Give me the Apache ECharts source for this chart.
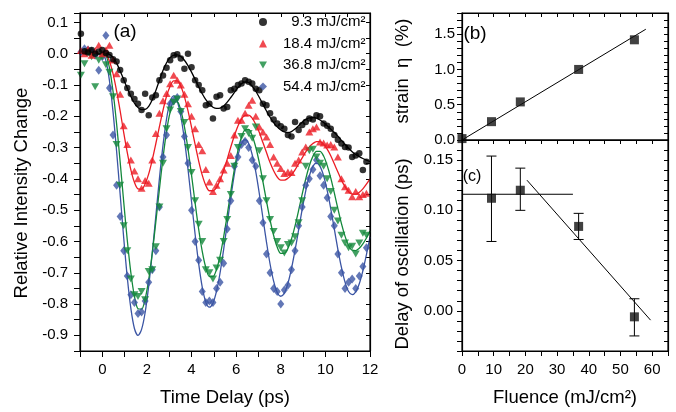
<!DOCTYPE html>
<html><head><meta charset="utf-8">
<script src="https://cdn.jsdelivr.net/npm/echarts@6/dist/echarts.min.js"></script>
<style>html,body{margin:0;padding:0;background:#fff}#c{width:676px;height:412px}</style>
</head><body><div id="c"></div>
<script>
// ---- Panel (a): time delays (ps) ----
const delays = [-0.96,-0.80,-0.64,-0.48,-0.32,-0.16,0.00,0.16,0.32,0.48,0.64,0.80,0.96,1.12,1.28,1.44,1.60,1.76,1.92,2.08,2.24,2.40,2.56,2.72,2.88,3.04,3.20,3.36,3.52,3.68,3.84,4.00,4.16,4.32,4.48,4.64,4.80,4.96,5.12,5.28,5.44,5.60,5.76,5.92,6.08,6.24,6.40,6.56,6.72,6.88,7.04,7.20,7.36,7.52,7.68,7.84,8.00,8.16,8.32,8.48,8.64,8.80,8.96,9.12,9.28,9.44,9.60,9.76,9.92,10.08,10.24,10.40,10.56,10.72,10.88,11.04,11.20,11.36,11.52,11.68,11.84];
const fitDelays = delays.concat([12.0]);

// measured relative intensity change
const d93 = [0.064,0.008,0.004,0.012,0.0,0.006,0.012,0.002,
 -0.004,-0.018,-0.025,-0.052,-0.085,-0.11,-0.128,-0.145,-0.16,-0.18,
 -0.128,-0.197,-0.14,-0.133,-0.085,-0.07,-0.045,-0.021,-0.005,-0.002,
 -0.015,-0.048,0.0,-0.043,-0.085,-0.1,-0.117,-0.165,-0.16,-0.207,
 -0.138,-0.133,-0.175,-0.17,-0.117,-0.112,-0.1,-0.095,-0.085,-0.09,
 -0.095,-0.112,-0.117,-0.16,-0.165,-0.19,-0.21,-0.223,-0.232,-0.24,
 -0.26,-0.265,-0.218,-0.244,-0.228,-0.218,-0.207,-0.21,-0.197,-0.2,
 -0.223,-0.23,-0.24,-0.26,-0.275,-0.287,-0.298,-0.3,-0.33,-0.325,
 -0.318,-0.372,-0.345];
const d184 = [0.01,0.0,0.015,-0.005,0.01,0.027,0.0,
 0.012,0.027,-0.02,-0.064,-0.13,-0.23,-0.29,-0.34,-0.375,-0.40,
 -0.43,-0.405,-0.414,-0.34,-0.255,-0.19,-0.15,-0.127,-0.096,-0.069,
 -0.085,-0.1,-0.13,-0.16,-0.2,-0.24,-0.29,-0.31,-0.37,-0.41,
 -0.44,-0.42,-0.40,-0.372,-0.35,-0.325,-0.26,-0.213,-0.213,-0.19,
 -0.165,-0.149,-0.2,-0.234,-0.25,-0.266,-0.29,-0.33,-0.35,-0.367,
 -0.383,-0.378,-0.38,-0.35,-0.34,-0.314,-0.298,-0.25,-0.24,-0.234,
 -0.282,-0.285,-0.292,-0.29,-0.298,-0.33,-0.40,-0.425,-0.436,-0.457,
 -0.44,-0.457,-0.45,-0.446];
const d368 = [-0.069,-0.032,0.005,-0.01,-0.106,-0.021,-0.01,
 -0.035,-0.059,-0.138,-0.29,-0.42,-0.55,-0.63,-0.72,-0.77,-0.776,
 -0.76,-0.786,-0.696,-0.69,-0.617,-0.49,-0.35,-0.24,-0.18,-0.155,
 -0.145,-0.185,-0.22,-0.3,-0.38,-0.47,-0.545,-0.6,-0.69,-0.70,
 -0.72,-0.685,-0.66,-0.6,-0.53,-0.45,-0.36,-0.3,-0.265,-0.24,
 -0.255,-0.27,-0.234,-0.31,-0.4,-0.47,-0.53,-0.568,-0.6,-0.62,
 -0.637,-0.61,-0.605,-0.585,-0.54,-0.47,-0.36,-0.31,-0.305,-0.33,
 -0.35,-0.36,-0.4,-0.44,-0.5,-0.535,-0.58,-0.605,-0.62,-0.615,
 -0.64,-0.605,-0.574,-0.58];
const d544 = [0.005,0.016,0.012,0.008,-0.005,-0.053,-0.01,
 0.058,-0.11,-0.26,-0.42,-0.52,-0.63,-0.71,-0.77,-0.795,-0.83,
 -0.825,-0.79,-0.73,-0.69,-0.63,-0.49,-0.33,-0.26,-0.16,-0.15,
 -0.14,-0.185,-0.265,-0.35,-0.5,-0.6,-0.66,-0.76,-0.795,-0.79,
 -0.795,-0.75,-0.73,-0.67,-0.56,-0.47,-0.36,-0.33,-0.29,-0.28,
 -0.3,-0.34,-0.36,-0.47,-0.54,-0.64,-0.7,-0.75,-0.76,-0.8,
 -0.755,-0.74,-0.69,-0.63,-0.55,-0.49,-0.42,-0.4,-0.37,-0.34,
 -0.39,-0.42,-0.46,-0.52,-0.55,-0.64,-0.7,-0.75,-0.73,-0.72,
 -0.75,-0.71,-0.68,-0.62];

// fitted curves
const fit93 = [0,0,0,0,0,0,0,0,
 -0.002,-0.012,-0.03,-0.055,-0.083,-0.11,-0.137,-0.158,-0.172,-0.179,
 -0.178,-0.168,-0.147,-0.118,-0.085,-0.054,-0.029,-0.012,-0.005,-0.004,
 -0.009,-0.021,-0.038,-0.059,-0.082,-0.106,-0.128,-0.147,-0.161,-0.171,
 -0.175,-0.174,-0.167,-0.155,-0.14,-0.124,-0.108,-0.096,-0.09,-0.092,
 -0.104,-0.12,-0.14,-0.162,-0.183,-0.203,-0.22,-0.234,-0.244,-0.25,
 -0.252,-0.249,-0.241,-0.23,-0.219,-0.21,-0.205,-0.204,-0.206,-0.212,
 -0.22,-0.23,-0.241,-0.252,-0.264,-0.277,-0.29,-0.302,-0.313,-0.322,
 -0.329,-0.335,-0.34,-0.345];
const fit184 = [0,0,0,0,0,0,0,
 -0.003,-0.024,-0.064,-0.119,-0.183,-0.252,-0.316,-0.371,-0.411,-0.432,
 -0.433,-0.416,-0.384,-0.339,-0.287,-0.233,-0.181,-0.136,-0.104,-0.087,
 -0.087,-0.104,-0.137,-0.182,-0.235,-0.29,-0.343,-0.388,-0.421,-0.438,
 -0.438,-0.427,-0.404,-0.373,-0.337,-0.298,-0.262,-0.231,-0.208,-0.197,
 -0.196,-0.206,-0.226,-0.252,-0.284,-0.316,-0.348,-0.374,-0.394,-0.404,
 -0.404,-0.398,-0.387,-0.371,-0.352,-0.333,-0.314,-0.298,-0.287,-0.281,
 -0.281,-0.289,-0.305,-0.326,-0.352,-0.378,-0.404,-0.425,-0.441,-0.449,
 -0.449,-0.443,-0.432,-0.417,-0.40];
const fit368 = [0,0,0,0,0,0,0,
 -0.005,-0.045,-0.12,-0.224,-0.346,-0.474,-0.596,-0.7,-0.775,-0.815,
 -0.816,-0.784,-0.722,-0.637,-0.537,-0.433,-0.333,-0.248,-0.187,-0.154,
 -0.154,-0.181,-0.233,-0.304,-0.388,-0.477,-0.561,-0.632,-0.684,-0.712,
 -0.712,-0.689,-0.646,-0.585,-0.515,-0.44,-0.37,-0.31,-0.266,-0.243,
 -0.242,-0.262,-0.299,-0.349,-0.409,-0.471,-0.531,-0.581,-0.618,-0.638,
 -0.638,-0.622,-0.592,-0.55,-0.501,-0.449,-0.4,-0.358,-0.328,-0.312,
 -0.312,-0.327,-0.357,-0.397,-0.445,-0.495,-0.543,-0.583,-0.613,-0.628,
 -0.629,-0.622,-0.608,-0.589,-0.567];
const fit544 = [0,0,0,0,0,0,0,
 -0.022,-0.086,-0.185,-0.311,-0.45,-0.589,-0.715,-0.814,-0.878,-0.9,
 -0.881,-0.827,-0.742,-0.636,-0.518,-0.399,-0.293,-0.208,-0.154,-0.135,
 -0.152,-0.2,-0.274,-0.368,-0.473,-0.577,-0.671,-0.746,-0.794,-0.81,
 -0.797,-0.759,-0.7,-0.625,-0.543,-0.46,-0.385,-0.326,-0.288,-0.275,
 -0.287,-0.323,-0.378,-0.448,-0.525,-0.602,-0.672,-0.727,-0.763,-0.775,
 -0.765,-0.734,-0.687,-0.628,-0.563,-0.497,-0.438,-0.391,-0.36,-0.35,
 -0.36,-0.39,-0.437,-0.495,-0.56,-0.625,-0.683,-0.73,-0.76,-0.77,
 -0.761,-0.735,-0.694,-0.642,-0.585];

const seriesNames = ['9.3','18.4','36.8','54.4'];
const legendLabels = {'9.3':'\u2007' + '9.3 mJ/cm²', '18.4':'18.4 mJ/cm²', '36.8':'36.8 mJ/cm²', '54.4':'54.4 mJ/cm²'};

// ---- Panel (b) ----
const strainFluence = [0, 9.3, 18.4, 36.8, 54.4];
const strainVal = [0.02, 0.26, 0.54, 1.0, 1.42];
const strainFitX = [0, 58];
const strainFitY = [0, 1.57];

// ---- Panel (c) ----
const delayFluence = [9.3, 18.4, 36.8, 54.4];
const delayVal = [0.112, 0.120, 0.084, -0.006];
const delayHi = [0.154, 0.142, 0.097, 0.012];
const delayLo = [0.069, 0.100, 0.071, -0.025];
const flatFitX = [0, 35];
const flatFitY = [0.116, 0.116];
const slopeFitX = [20.5, 59.5];
const slopeFitY = [0.130, -0.0093];

const FONT = 'Liberation Sans, Arial, Helvetica, sans-serif';
const C = {k:'#000000', r:'#ec1c24', g:'#13883b', b:'#3b55a4'};
const zip = (xs, ys) => xs.map((x, i) => [x, ys[i]]);
const isMult = (v, step) => { const q = v / step; return Math.abs(q - Math.round(q)) < 1e-6; };

function mainX(grid, min, max, interval, labelStep, tickLen) {
  return {type:'value', gridIndex:grid, min, max, interval, position:'bottom',
    axisLine:{show:true, onZero:false, lineStyle:{color:'#000', width:1.2}},
    axisTick:{show:true, inside:false, length:tickLen, lineStyle:{color:'#000', width:1}},
    axisLabel:{color:'#000', fontSize:15, fontFamily:FONT, margin:11,
      formatter: v => isMult(v, labelStep) ? String(Math.round(v)) : ''},
    splitLine:{show:false}};
}
function mirrorX(grid, min, max, interval, showTick, pos) {
  return {type:'value', gridIndex:grid, min, max, interval, position:pos || 'top',
    axisLine:{show:true, onZero:false, lineStyle:{color:'#000', width:1.2}},
    axisTick:{show:showTick, inside:true, length:4, lineStyle:{color:'#000', width:1}},
    axisLabel:{show:false}, splitLine:{show:false}};
}
function mainY(grid, min, max, interval, labelStep, dec, tickLen, margin) {
  return {type:'value', gridIndex:grid, min, max, interval, position:'left',
    axisLine:{show:true, onZero:false, lineStyle:{color:'#000', width:1.2}},
    axisTick:{show:true, inside:false, length:tickLen, lineStyle:{color:'#000', width:1}},
    axisLabel:{color:'#000', fontSize:15, fontFamily:FONT, margin,
      formatter: v => isMult(v, labelStep) ? (Math.round(v/labelStep)*labelStep).toFixed(dec) : ''},
    splitLine:{show:false}};
}
function mirrorY(grid, min, max, interval) {
  return {type:'value', gridIndex:grid, min, max, interval, position:'right',
    axisLine:{show:true, onZero:false, lineStyle:{color:'#000', width:1.2}},
    axisTick:{show:true, inside:true, length:4, lineStyle:{color:'#000', width:1}},
    axisLabel:{show:false}, splitLine:{show:false}};
}

const symbols = {
  '9.3': {symbol:'circle', size:6.5, color:C.k, data:d93, fit:fit93},
  '18.4': {symbol:'triangle', size:[8,7], color:C.r, data:d184, fit:fit184},
  '36.8': {symbol:'path://M0,0L10,0L5,9Z', size:[8,7], color:C.g, data:d368, fit:fit368},
  '54.4': {symbol:'diamond', size:[7,9], color:C.b, data:d544, fit:fit544}
};

const series = [];
['54.4','36.8','18.4','9.3'].forEach(n => {
  const s = symbols[n];
  series.push({name:'fit'+n, type:'line', xAxisIndex:0, yAxisIndex:0, data:zip(fitDelays, s.fit),
    smooth:0.3, showSymbol:false, lineStyle:{color:s.color, width:1.3}, silent:true, z:2});
});
['54.4','36.8','18.4','9.3'].forEach(n => {
  const s = symbols[n];
  series.push({name:n, type:'scatter', xAxisIndex:0, yAxisIndex:0, data:zip(delays, s.data),
    symbol:s.symbol, symbolSize:s.size, itemStyle:{color:s.color}, z:3});
});
// (b)
series.push({name:'strainFit', type:'line', xAxisIndex:2, yAxisIndex:2, data:zip(strainFitX, strainFitY),
  showSymbol:false, lineStyle:{color:'#000', width:1}, z:2});
series.push({name:'strain', type:'scatter', xAxisIndex:2, yAxisIndex:2, data:zip(strainFluence, strainVal),
  symbol:'rect', symbolSize:9, itemStyle:{color:'#111'}, z:3});
// (c)
series.push({name:'flatFit', type:'line', xAxisIndex:4, yAxisIndex:4, data:zip(flatFitX, flatFitY),
  showSymbol:false, lineStyle:{color:'#000', width:1}, z:2});
series.push({name:'slopeFit', type:'line', xAxisIndex:4, yAxisIndex:4, data:zip(slopeFitX, slopeFitY),
  showSymbol:false, lineStyle:{color:'#000', width:1}, z:2});
series.push({name:'err', type:'custom', xAxisIndex:4, yAxisIndex:4,
  data: delayFluence.map((f, i) => [f, delayHi[i], delayLo[i]]),
  encode:{x:0, y:[1,2]}, z:2,
  renderItem: (params, api) => {
    const x = api.value(0);
    const a = api.coord([x, api.value(1)]), b = api.coord([x, api.value(2)]);
    const w = 5, st = {stroke:'#000', lineWidth:1};
    return {type:'group', children:[
      {type:'line', shape:{x1:a[0], y1:a[1], x2:b[0], y2:b[1]}, style:st},
      {type:'line', shape:{x1:a[0]-w, y1:a[1], x2:a[0]+w, y2:a[1]}, style:st},
      {type:'line', shape:{x1:b[0]-w, y1:b[1], x2:b[0]+w, y2:b[1]}, style:st}
    ]};
  }});
series.push({name:'delay', type:'scatter', xAxisIndex:4, yAxisIndex:4, data:zip(delayFluence, delayVal),
  symbol:'rect', symbolSize:9, itemStyle:{color:'#111'}, z:3});

function txt(text, x, y, size, rot) {
  return {type:'text', x, y, rotation: rot || 0, z:10,
    style:{text, fill:'#000', font: size + 'px ' + FONT, align:'center', verticalAlign:'middle',
      textAlign:'center', textVerticalAlign:'middle'}};
}
// panel frame boxes (layout: left, top, width, height)
const panelBoxes = [[80,13,290,338],[462,13,206,127],[462,140,206,211]];

const option = {
  animation:false,
  backgroundColor:'#fff',
  grid: panelBoxes.map(b => ({left:b[0], top:b[1], width:b[2], height:b[3]})),
  xAxis:[
    mainX(0, -1, 12, 1, 2, 6),
    mirrorX(0, -1, 12, 1, true),
    mirrorX(1, 0, 65, 5, false, 'bottom'),
    mirrorX(1, 0, 65, 5, true),
    mainX(2, 0, 65, 5, 10, 5),
    mirrorX(2, 0, 65, 5, true)
  ],
  yAxis:[
    mainY(0, -0.95, 0.13, 0.05, 0.1, 1, 6, 12),
    mirrorY(0, -0.95, 0.13, 0.05),
    mainY(1, 0, 1.8, 0.1, 0.5, 1, 5, 7),
    mirrorY(1, 0, 1.8, 0.1),
    mainY(2, -0.04, 0.17, 0.01, 0.05, 2, 5, 9),
    mirrorY(2, -0.04, 0.17, 0.01)
  ],
  legend:{
    orient:'vertical', left:259, top:14, padding:0, itemGap:5.5, itemWidth:8, itemHeight:8,
    data:seriesNames, selectedMode:false,
    formatter: n => legendLabels[n],
    textStyle:{color:'#000', fontFamily:FONT, fontSize:15, lineHeight:16, padding:[0,0,0,11]}
  },
  graphic: panelBoxes.map(b => ({type:'rect', z:20,
      shape:{x:b[0], y:b[1], width:b[2], height:b[3]},
      style:{fill:'none', stroke:'#000', lineWidth:1.2}})).concat([
    txt('(a)', 125, 32, 19),
    txt('(b)', 475, 34, 19),
    txt('(c)', 472, 177, 16),
    txt('Time Delay (ps)', 225, 398, 18.5),
    txt('Fluence (mJ/cm²)', 565, 398, 18.5),
    txt('Relative Intensity Change', 22, 193, 18.5, Math.PI/2),
    txt('strain  η  (%)', 403, 71, 18.5, Math.PI/2),
    txt('Delay of oscillation (ps)', 403, 254, 18.5, Math.PI/2)
  ]),
  series
};

const chart = echarts.init(document.getElementById('c'), null, {renderer:'canvas'});
chart.setOption(option);
</script></body></html>
